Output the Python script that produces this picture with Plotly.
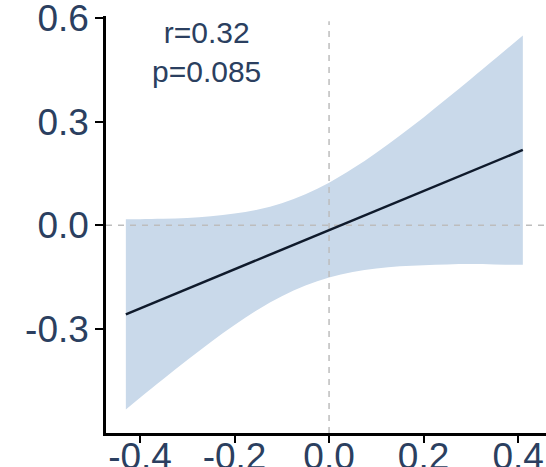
import plotly.graph_objects as go

# Data
x_vals = [-0.43, -0.4, -0.35, -0.3, -0.25, -0.2, -0.15, -0.1, -0.05, 0.0,
          0.05, 0.1, 0.15, 0.2, 0.25, 0.3, 0.35, 0.41]
fit_vals = [-0.257, -0.240, -0.212, -0.184, -0.155, -0.127, -0.099, -0.071, -0.042, -0.014,
            0.014, 0.043, 0.071, 0.099, 0.127, 0.156, 0.184, 0.218]
upper_vals = [0.018, 0.018, 0.019, 0.021, 0.026, 0.034, 0.046, 0.064, 0.090, 0.123,
              0.164, 0.210, 0.260, 0.312, 0.367, 0.423, 0.480, 0.549]
lower_vals = [-0.532, -0.498, -0.443, -0.389, -0.337, -0.288, -0.243, -0.205, -0.174, -0.151,
              -0.135, -0.125, -0.118, -0.115, -0.113, -0.112, -0.113, -0.114]

x_ticks = [-0.4, -0.2, 0.0, 0.2, 0.4]
x_tick_labels = ["-0.4", "-0.2", "0.0", "0.2", "0.4"]
y_ticks = [-0.3, 0.0, 0.3, 0.6]
y_tick_labels = ["-0.3", "0.0", "0.3", "0.6"]
annotation_text = "r=0.32<br>p=0.085"

x_range = [-0.472, 0.459]
y_range = [-0.6, 0.605]

text_color = "#2b3f60"
band_color = "#c9d9ea"
line_color = "#0f1a2b"
ref_color = "#bdbdbd"

fig = go.Figure()

# confidence band (lower edge, then upper edge filled down to it)
fig.add_trace(go.Scatter(
    x=x_vals, y=lower_vals, mode="lines",
    line=dict(width=0, color=band_color, shape="spline"),
    hoverinfo="skip", showlegend=False,
))
fig.add_trace(go.Scatter(
    x=x_vals, y=upper_vals, mode="lines",
    fill="tonexty", fillcolor=band_color,
    line=dict(width=0, color=band_color, shape="spline"),
    hoverinfo="skip", showlegend=False,
))

# reference dashed lines
fig.add_trace(go.Scatter(
    x=[0, 0], y=[y_range[0], 0.59],
    mode="lines", line=dict(color=ref_color, width=1.5, dash="6px,6px"),
    hoverinfo="skip", showlegend=False,
))
fig.add_trace(go.Scatter(
    x=[x_range[0], x_range[1]], y=[0, 0],
    mode="lines", line=dict(color=ref_color, width=1.5, dash="6px,6px"),
    hoverinfo="skip", showlegend=False,
))

# fitted line
fig.add_trace(go.Scatter(
    x=x_vals, y=fit_vals, mode="lines",
    line=dict(color=line_color, width=2.5),
    showlegend=False,
))

fig.add_annotation(
    x=-0.26, y=0.5, xref="x", yref="y",
    text=annotation_text, showarrow=False,
    font=dict(family="Liberation Sans, Arial, sans-serif", size=30, color=text_color),
    align="center",
)

axis_font = dict(family="Liberation Sans, Arial, sans-serif", size=37, color=text_color)

fig.update_xaxes(
    range=x_range, tickvals=x_ticks, ticktext=x_tick_labels,
    showline=True, linecolor="black", linewidth=2.5,
    ticks="outside", ticklen=7, tickwidth=2, tickcolor="black",
    showgrid=False, zeroline=False, tickfont=axis_font, automargin=False,
    ticklabeloverflow="allow", ticklabelstandoff=-18,
)
fig.update_yaxes(
    range=y_range, tickvals=y_ticks, ticktext=y_tick_labels,
    showline=True, linecolor="black", linewidth=2.5,
    ticks="outside", ticklen=8, tickwidth=2, tickcolor="black",
    showgrid=False, zeroline=False, tickfont=axis_font, automargin=False,
    ticklabeloverflow="allow", ticklabelstandoff=-1,
)

fig.update_layout(
    width=546, height=467,
    margin=dict(l=106, r=0, t=16, b=34),
    paper_bgcolor="white", plot_bgcolor="white",
    showlegend=False,
)

fig.write_html("out.html")
